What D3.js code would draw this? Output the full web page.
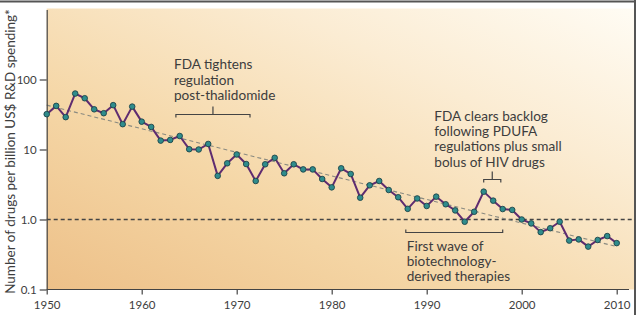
<!DOCTYPE html>
<html>
<head>
<meta charset="utf-8">
<script src="https://cdn.jsdelivr.net/npm/d3@7"></script>
<style>
  body { margin: 0; background: #fff; }
  text { font-family: Lato, "Open Sans", sans-serif; fill: #3d3d3d; }
</style>
</head>
<body>
<div id="chart"></div>
<script>
// data
const years = d3.range(1950, 2011);
const drugsPerBillion = [
  32, 42, 29, 63, 54, 37.5, 33, 43, 23, 41,
  25, 21, 13.4, 13.7, 15.6, 10.1, 10, 12, 4.2, 6.35,
  8.5, 6.2, 3.55, 6.15, 7.6, 4.57, 6.15, 5.2, 5.2, 3.79,
  2.88, 5.39, 4.47, 2.05, 3.08, 3.55, 2.64, 2.08, 1.42, 2.0,
  1.56, 2.12, 1.65, 1.35, 0.93, 1.29, 2.5, 1.86, 1.41, 1.37,
  1.0, 0.88, 0.66, 0.75, 0.93, 0.50, 0.52, 0.41, 0.51, 0.58,
  0.46
];
const trendYears = [1950, 2010];
const trendValues = [43, 0.41];
const xTicks = [1950, 1960, 1970, 1980, 1990, 2000, 2010];
const yTicks = [0.1, 1, 10, 100];
const yTickLabels = ["0.1", "1.0", "10", "100"];
const yLabel = "Number of drugs per billion US$ R&D spending*";

const annotations = [
  { lines: ["FDA tightens", "regulation", "post-thalidomide"], year: 1963.4, top: 69.3,
    bracket: { from: 1963.6, to: 1971.4, y: 114.5, dir: 1, mid: true } },
  { lines: ["FDA clears backlog", "following PDUFA", "regulations plus small", "bolus of HIV drugs"], year: 1990.8, top: 120.7,
    bracket: { from: 1996.0, to: 1997.8, y: 179.5, dir: 1, mid: true } },
  { lines: ["First wave of", "biotechnology-", "derived therapies"], year: 1987.9, top: 250.7,
    bracket: { from: 1987.8, to: 1998.0, y: 232.5, dir: -1, mid: false } }
];

const width = 642, height = 315;
const svg = d3.select("#chart").append("svg")
  .attr("width", width).attr("height", height);

const x = d3.scaleLinear().domain([1950, 2010]).range([46.7, 616.7]);
const y = d3.scaleLog().domain([0.1, 1000]).range([289.5, 9.5]);
const plotRight = 635;

// background gradient
const defs = svg.append("defs");
const grad = defs.append("linearGradient").attr("id", "bg")
  .attr("x1", 0).attr("y1", 1).attr("x2", 1).attr("y2", 0);
grad.append("stop").attr("offset", 0).attr("stop-color", "#edc088");
grad.append("stop").attr("offset", 0.35).attr("stop-color", "#f5d7a7");
grad.append("stop").attr("offset", 0.7).attr("stop-color", "#fbecd3");
grad.append("stop").attr("offset", 1).attr("stop-color", "#fffcf4");

svg.append("rect")
  .attr("x", x.range()[0]).attr("y", y.range()[1] - 1)
  .attr("width", plotRight - x.range()[0]).attr("height", y.range()[0] - y.range()[1] + 1)
  .attr("fill", "url(#bg)");

// frame
svg.append("line").attr("x1", 0).attr("x2", plotRight + 1).attr("y1", 1.5).attr("y2", 1.5)
  .attr("stroke", "#555").attr("stroke-width", 2);
svg.append("line").attr("x1", plotRight).attr("x2", plotRight).attr("y1", 0).attr("y2", height)
  .attr("stroke", "#555").attr("stroke-width", 2);

// reference line at 1.0
svg.append("line")
  .attr("x1", x.range()[0]).attr("x2", plotRight)
  .attr("y1", y(1)).attr("y2", y(1))
  .attr("stroke", "#444").attr("stroke-width", 1.3).attr("stroke-dasharray", "4,3");

// trend
svg.append("line")
  .attr("x1", x(trendYears[0])).attr("y1", y(trendValues[0]))
  .attr("x2", x(trendYears[1])).attr("y2", y(trendValues[1]))
  .attr("stroke", "#8a8a80").attr("stroke-width", 1.1).attr("stroke-dasharray", "4,3");

// axes
const yAxis = svg.append("g").attr("transform", `translate(${x.range()[0]},0)`)
  .call(d3.axisLeft(y).tickValues(yTicks)
    .tickFormat((d, i) => yTickLabels[i]).tickSize(7).tickSizeOuter(0).tickPadding(3));
yAxis.selectAll("path, line").attr("stroke", "#444").attr("stroke-width", 1.2);
yAxis.selectAll("text").style("font-size", "11.5px").attr("fill", "#3d3d3d");

const xAxis = svg.append("g").attr("transform", `translate(0,${y.range()[0]})`)
  .call(d3.axisBottom(x).tickValues(xTicks).tickFormat(d3.format("d"))
    .tickSize(5).tickSizeOuter(0).tickPadding(6));
xAxis.select(".domain").remove();
xAxis.selectAll("line").attr("stroke", "#444").attr("stroke-width", 1.2);
xAxis.selectAll("text").style("font-size", "11.5px").attr("fill", "#3d3d3d");
svg.append("line")
  .attr("x1", x.range()[0]).attr("x2", plotRight - 6)
  .attr("y1", y.range()[0]).attr("y2", y.range()[0])
  .attr("stroke", "#444").attr("stroke-width", 1.2);

// y label
svg.append("text")
  .attr("transform", `translate(15,${(y.range()[0] + y.range()[1]) / 2 + 2}) rotate(-90)`)
  .attr("text-anchor", "middle")
  .style("font-size", "13.5px")
  .text(yLabel);

// data line and markers
const pts = years.map((yr, i) => [yr, drugsPerBillion[i]]);
svg.append("path")
  .datum(pts)
  .attr("fill", "none")
  .attr("stroke", "#5f2c70").attr("stroke-width", 2)
  .attr("stroke-linejoin", "round")
  .attr("d", d3.line().x(d => x(d[0])).y(d => y(d[1])));

svg.selectAll("circle.pt").data(pts).join("circle")
  .attr("class", "pt")
  .attr("cx", d => x(d[0])).attr("cy", d => y(d[1]))
  .attr("r", 2.8)
  .attr("fill", "#2f8c8c").attr("stroke", "#1d4448").attr("stroke-width", 0.9);

// annotations
annotations.forEach(a => {
  const t = svg.append("text").attr("x", x(a.year)).attr("y", a.top)
    .style("font-size", "13.6px");
  a.lines.forEach((ln, i) => {
    t.append("tspan").attr("x", x(a.year)).attr("dy", i === 0 ? 0 : 15.3).text(ln);
  });
  const b = a.bracket;
  const x0 = x(b.from), x1 = x(b.to);
  let d = `M${x0},${b.y + 3 * b.dir}V${b.y}H${x1}V${b.y + 3 * b.dir}`;
  if (b.mid) d += `M${(x0 + x1) / 2},${b.y}V${b.y - 8}`;
  svg.append("path").attr("d", d).attr("fill", "none")
    .attr("stroke", "#444").attr("stroke-width", 1.2);
});
</script>
</body>
</html>
